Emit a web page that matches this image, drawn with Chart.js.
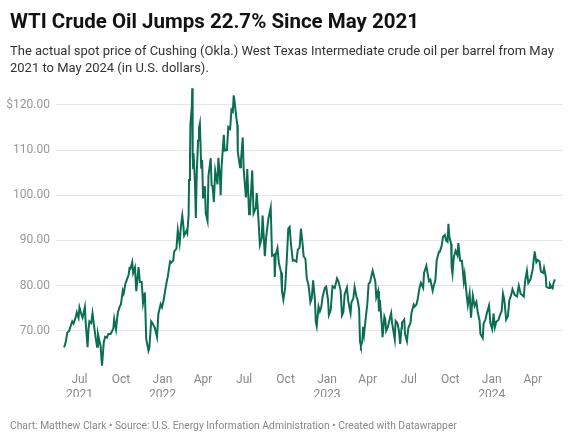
<!DOCTYPE html>
<html>
<head>
<meta charset="utf-8">
<script src="https://cdn.jsdelivr.net/npm/chart.js@4"></script>
<style>
  body { margin: 0; width: 575px; height: 439px; background: #fff; font-family: Roboto, sans-serif; position: relative; overflow: hidden; }
  #title { position: absolute; left: 10px; top: 9px; font-size: 20.5px; font-weight: 700; color: #111; white-space: nowrap; }
  #subtitle { position: absolute; left: 10px; top: 42px; width: 560px; font-size: 13px; line-height: 17px; color: #333; }
  #chartBox { position: absolute; left: 0; top: 0; width: 575px; height: 439px; }
  #footer { position: absolute; left: 10px; top: 419px; font-size: 10.3px; color: #888; white-space: nowrap; }
</style>
</head>
<body>
<div id="chartBox"><canvas id="wtiChart"></canvas></div>
<div id="title">WTI Crude Oil Jumps 22.7% Since May 2021</div>
<div id="subtitle">The actual spot price of Cushing (Okla.) West Texas Intermediate crude oil per barrel from May 2021 to May 2024 (in U.S. dollars).</div>
<div id="footer">Chart: Matthew Clark • Source: U.S. Energy Information Administration • Created with Datawrapper</div>
<script>
// spot price, dollars per barrel
const dates = [
  '2021-05-28','2021-06-01','2021-06-04','2021-06-08','2021-06-11','2021-06-15','2021-06-18','2021-06-23','2021-06-25','2021-06-29',
  '2021-07-01','2021-07-06','2021-07-08','2021-07-13','2021-07-15','2021-07-19','2021-07-21','2021-07-23','2021-07-27','2021-07-30',
  '2021-08-03','2021-08-05','2021-08-09','2021-08-11','2021-08-13','2021-08-17','2021-08-19','2021-08-20','2021-08-24','2021-08-27',
  '2021-08-31','2021-09-03','2021-09-08','2021-09-10','2021-09-14','2021-09-16','2021-09-20','2021-09-22','2021-09-24','2021-09-28',
  '2021-10-01','2021-10-05','2021-10-07','2021-10-11','2021-10-14','2021-10-18','2021-10-20','2021-10-22','2021-10-26','2021-10-28',
  '2021-11-01','2021-11-04','2021-11-09','2021-11-12','2021-11-16','2021-11-19','2021-11-23','2021-11-26','2021-12-01','2021-12-03',
  '2021-12-07','2021-12-10','2021-12-15','2021-12-20','2021-12-23','2021-12-28','2021-12-31',
  '2022-01-04','2022-01-07','2022-01-11','2022-01-13','2022-01-18','2022-01-21','2022-01-25','2022-01-27','2022-02-01','2022-02-04',
  '2022-02-08','2022-02-11','2022-02-14','2022-02-16','2022-02-18','2022-02-23','2022-02-25','2022-02-28','2022-03-01','2022-03-03',
  '2022-03-04','2022-03-07','2022-03-08','2022-03-09','2022-03-10','2022-03-11','2022-03-14','2022-03-16','2022-03-18','2022-03-21',
  '2022-03-23','2022-03-25','2022-03-28','2022-03-30','2022-04-01','2022-04-05','2022-04-07','2022-04-11','2022-04-13','2022-04-18',
  '2022-04-20','2022-04-22','2022-04-25','2022-04-28','2022-05-03','2022-05-05','2022-05-09','2022-05-10','2022-05-12','2022-05-17',
  '2022-05-19','2022-05-24','2022-05-27','2022-05-31','2022-06-03','2022-06-06','2022-06-08','2022-06-10','2022-06-14','2022-06-16',
  '2022-06-17','2022-06-22','2022-06-24','2022-06-28','2022-06-30','2022-07-05','2022-07-07','2022-07-08','2022-07-12','2022-07-14',
  '2022-07-19','2022-07-22','2022-07-25','2022-07-27','2022-07-29','2022-08-02','2022-08-05','2022-08-09','2022-08-11','2022-08-16',
  '2022-08-19','2022-08-24','2022-08-29','2022-09-01','2022-09-06','2022-09-07','2022-09-09','2022-09-13','2022-09-16','2022-09-21',
  '2022-09-23','2022-09-26','2022-09-30','2022-10-04','2022-10-07','2022-10-10','2022-10-13','2022-10-17','2022-10-21','2022-10-25',
  '2022-10-28','2022-11-01','2022-11-04','2022-11-08','2022-11-10','2022-11-14','2022-11-17','2022-11-21','2022-11-25','2022-11-28',
  '2022-12-01','2022-12-05','2022-12-07','2022-12-09','2022-12-13','2022-12-16','2022-12-19','2022-12-22','2022-12-27','2022-12-30',
  '2023-01-03','2023-01-05','2023-01-09','2023-01-13','2023-01-18','2023-01-23','2023-01-26','2023-01-31','2023-02-03','2023-02-06',
  '2023-02-09','2023-02-14','2023-02-17','2023-02-22','2023-02-24','2023-02-28','2023-03-03','2023-03-07','2023-03-10','2023-03-13',
  '2023-03-15','2023-03-17','2023-03-20','2023-03-22','2023-03-24','2023-03-28','2023-03-31','2023-04-03','2023-04-06','2023-04-12',
  '2023-04-14','2023-04-18','2023-04-20','2023-04-24','2023-04-26','2023-04-28','2023-05-02','2023-05-04','2023-05-08','2023-05-10',
  '2023-05-12','2023-05-16','2023-05-18','2023-05-23','2023-05-25','2023-05-31','2023-06-02','2023-06-06','2023-06-09','2023-06-12',
  '2023-06-15','2023-06-16','2023-06-21','2023-06-23','2023-06-27','2023-06-30','2023-07-05','2023-07-07','2023-07-12','2023-07-14',
  '2023-07-18','2023-07-21','2023-07-25','2023-07-28','2023-08-02','2023-08-04','2023-08-09','2023-08-11','2023-08-15','2023-08-18',
  '2023-08-23','2023-08-25','2023-08-29','2023-09-01','2023-09-06','2023-09-08','2023-09-12','2023-09-15','2023-09-19','2023-09-22',
  '2023-09-25','2023-09-27','2023-09-29','2023-10-03','2023-10-04','2023-10-06','2023-10-09','2023-10-13','2023-10-17','2023-10-19',
  '2023-10-23','2023-10-27','2023-10-31','2023-11-02','2023-11-07','2023-11-09','2023-11-13','2023-11-16','2023-11-20','2023-11-24',
  '2023-11-28','2023-12-01','2023-12-05','2023-12-07','2023-12-12','2023-12-14','2023-12-18','2023-12-21','2023-12-26','2023-12-29',
  '2024-01-02','2024-01-05','2024-01-08','2024-01-11','2024-01-16','2024-01-19','2024-01-23','2024-01-26','2024-01-29','2024-02-02',
  '2024-02-06','2024-02-09','2024-02-13','2024-02-16','2024-02-21','2024-02-26','2024-03-01','2024-03-05','2024-03-08','2024-03-12',
  '2024-03-15','2024-03-19','2024-03-22','2024-03-27','2024-04-01','2024-04-04','2024-04-05','2024-04-09','2024-04-12','2024-04-16',
  '2024-04-19','2024-04-24','2024-04-26','2024-04-30','2024-05-01','2024-05-03','2024-05-07','2024-05-09','2024-05-13','2024-05-15',
  '2024-05-17','2024-05-20'
];
const prices = [
  66.3, 67.7, 69.6, 70.0, 70.9, 72.1, 71.6, 73.1, 74.1, 72.9,
  75.2, 73.4, 72.9, 75.3, 71.6, 66.4, 70.3, 72.1, 71.7, 73.9,
  70.6, 69.1, 66.5, 69.3, 68.4, 66.6, 63.5, 62.3, 67.5, 68.7,
  68.5, 69.3, 69.3, 69.7, 70.5, 72.6, 70.3, 72.2, 74.0, 75.3,
  75.9, 78.9, 78.3, 80.5, 81.3, 82.4, 83.9, 83.8, 85.2, 82.8,
  84.0, 78.8, 84.1, 80.8, 80.8, 76.1, 78.5, 68.2, 65.6, 66.3,
  72.1, 71.7, 70.7, 68.6, 73.8, 75.9, 75.2,
  77.0, 78.9, 81.2, 82.1, 85.4, 85.1, 85.6, 87.6, 88.2, 92.3,
  89.4, 93.1, 95.5, 93.7, 91.1, 92.1, 91.6, 95.7, 103.4, 107.7,
  115.7, 119.4, 123.7, 108.7, 106.0, 109.3, 103.0, 95.0, 104.7, 112.1,
  114.9, 115.9, 105.9, 107.8, 99.3, 102.0, 96.0, 94.3, 104.3, 108.2,
  102.2, 102.1, 98.5, 105.4, 102.4, 108.3, 103.1, 100.0, 106.1, 113.4,
  109.9, 110.0, 115.1, 114.7, 118.9, 118.5, 122.1, 120.7, 117.0, 115.6,
  109.6, 106.2, 107.6, 112.8, 105.8, 99.5, 102.7, 105.8, 95.8, 96.5,
  105.5, 96.0, 96.7, 97.3, 100.5, 94.4, 89.0, 90.5, 95.5, 86.5,
  90.8, 94.9, 97.3, 86.6, 86.9, 81.9, 86.8, 88.3, 85.1, 82.9,
  78.7, 76.9, 79.5, 86.5, 92.6, 93.0, 89.1, 85.5, 85.6, 85.3,
  87.9, 88.4, 92.6, 88.9, 86.5, 85.9, 81.6, 80.0, 76.3, 77.2,
  81.2, 76.9, 72.0, 71.0, 75.4, 74.3, 75.2, 77.5, 79.5, 79.8,
  76.9, 73.5, 74.6, 79.9, 79.5, 81.6, 81.0, 78.9, 73.4, 74.1,
  78.1, 79.6, 76.5, 73.9, 76.3, 77.1, 79.7, 77.6, 76.7, 74.8,
  67.6, 66.7, 67.6, 70.9, 69.3, 73.2, 75.7, 80.4, 80.7, 83.3,
  82.5, 80.9, 77.4, 78.8, 74.3, 76.8, 71.7, 68.6, 73.2, 72.6,
  70.0, 70.9, 71.9, 73.9, 71.8, 68.1, 72.2, 71.7, 70.2, 67.1,
  70.6, 71.8, 72.5, 69.2, 67.7, 70.6, 71.8, 73.9, 75.8, 75.4,
  75.8, 77.1, 79.6, 80.6, 79.5, 82.8, 84.4, 83.2, 81.0, 81.3,
  78.9, 79.8, 81.2, 85.6, 87.5, 87.5, 88.8, 90.8, 91.2, 90.0,
  89.7, 93.7, 90.8, 89.2, 84.2, 82.6, 86.4, 87.7, 86.7, 89.4,
  85.5, 85.5, 81.0, 82.5, 77.4, 75.7, 78.3, 72.9, 77.8, 75.5,
  76.4, 74.1, 72.3, 69.3, 68.4, 71.6, 72.5, 73.9, 75.6, 71.7,
  70.4, 73.8, 70.8, 72.0, 72.4, 73.4, 74.4, 78.2, 76.8, 72.5,
  73.3, 76.8, 77.9, 79.2, 77.9, 77.6, 80.0, 78.2, 78.0, 77.6,
  81.0, 83.3, 80.6, 81.4, 83.7, 86.6, 87.6, 85.2, 85.7, 85.4,
  83.1, 82.8, 83.9, 81.9, 79.8, 79.6, 79.5, 80.3, 79.6, 79.4,
  80.6, 81.4
];
const xTickDates = ['2021-07-01','2021-10-01','2022-01-01','2022-04-01','2022-07-01','2022-10-01',
                    '2023-01-01','2023-04-01','2023-07-01','2023-10-01','2024-01-01','2024-04-01'];
const xTickLabels = [['Jul','2021'],'Oct',['Jan','2022'],'Apr','Jul','Oct',
                     ['Jan','2023'],'Apr','Jul','Oct',['Jan','2024'],'Apr'];
const yTicks = [70, 80, 90, 100, 110, 120];
const yTickLabels = ['70.00','80.00','90.00','100.00','110.00','$120.00'];

const day = d => Date.parse(d) / 86400000;
const points = dates.map((d, i) => ({ x: day(d), y: prices[i] }));
const firstDay = day(dates[0]);
const lastDay = day(dates[dates.length - 1]);

const ctx = document.getElementById('wtiChart').getContext('2d');
new Chart(ctx, {
  type: 'line',
  data: {
    datasets: [{
      data: points,
      borderColor: '#0b6e53',
      borderWidth: 2,
      pointRadius: 0,
      tension: 0,
      fill: false
    }]
  },
  options: {
    responsive: true,
    maintainAspectRatio: false,
    animation: false,
    layout: { padding: { top: 85, left: 0, right: 12, bottom: 42 } },
    plugins: {
      legend: { display: false },
      tooltip: { enabled: false }
    },
    scales: {
      x: {
        type: 'linear',
        min: firstDay - 18,
        max: lastDay + 18,
        afterBuildTicks: s => { s.ticks = xTickDates.map(d => ({ value: day(d) })); },
        afterFit: s => { s.height = 30; },
        grid: { display: false, drawTicks: false },
        border: { display: false },
        ticks: {
          autoSkip: false,
          maxRotation: 0,
          padding: 6,
          color: '#888',
          font: { family: 'Roboto', size: 12 },
          callback: (v, i) => xTickLabels[i]
        }
      },
      y: {
        min: 62,
        max: 124.4,
        afterBuildTicks: s => { s.ticks = yTicks.map(v => ({ value: v })); },
        afterFit: s => { s.width = 56; },
        grid: { color: '#e6e6e6', drawTicks: false },
        border: { display: false },
        ticks: {
          padding: 6,
          color: '#999',
          font: { family: 'Roboto', size: 12 },
          callback: (v, i) => yTickLabels[i]
        }
      }
    }
  }
});
</script>
</body>
</html>
